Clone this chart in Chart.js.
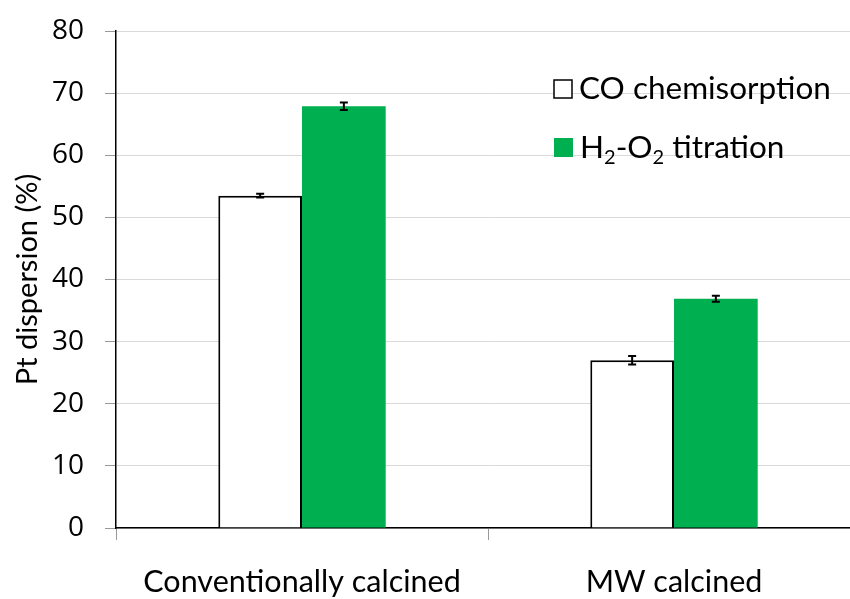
<!DOCTYPE html>
<html>
<head>
<meta charset="utf-8">
<script src="https://cdn.jsdelivr.net/npm/chart.js@4"></script>
<style>
  html,body{margin:0;padding:0;background:#fff;overflow:hidden;}
  .wrap{width:864px;height:599px;}
</style>
</head>
<body>
<div class="wrap"><canvas class="chart" width="864" height="599"></canvas></div>
<script>
const categories=["Conventionally calcined","MW calcined"];
const coValues=[53.5,27.0];
const coErrors=[0.3,0.7];
const h2o2Values=[67.9,36.9];
const h2o2Errors=[0.6,0.5];
const yTicks=[0,10,20,30,40,50,60,70,80];

// error bars drawn through the y scale
const errorBars={
  id:"errorBars",
  afterDatasetsDraw(chart){
    const ctx=chart.ctx;
    const y=chart.scales.y;
    chart.data.datasets.forEach((ds,di)=>{
      const meta=chart.getDatasetMeta(di);
      meta.data.forEach((bar,i)=>{
        const v=ds.data[i],e=ds.errors[i];
        const top=y.getPixelForValue(v+e),bot=y.getPixelForValue(v-e);
        ctx.save();
        ctx.strokeStyle="#000";
        ctx.lineWidth=2;
        ctx.beginPath();
        ctx.moveTo(bar.x,top);ctx.lineTo(bar.x,bot);
        ctx.moveTo(bar.x-4,top);ctx.lineTo(bar.x+4,top);
        ctx.moveTo(bar.x-4,bot);ctx.lineTo(bar.x+4,bot);
        ctx.stroke();
        ctx.restore();
      });
    });
  }
};

// legend inside plot, with subscripts
const insideLegend={
  id:"insideLegend",
  afterDraw(chart){
    const ctx=chart.ctx;
    const font="31.5px Lato";
    const sub="20px Lato";
    ctx.save();
    ctx.textBaseline="middle";
    // row 1
    ctx.fillStyle="#fff";ctx.strokeStyle="#000";ctx.lineWidth=1.5;
    ctx.fillRect(554,80,18,18);ctx.strokeRect(554,80,18,18);
    ctx.fillStyle="#000";ctx.font=font;
    ctx.fillText("CO chemisorption",579,89);
    // row 2
    ctx.fillStyle="#00b050";
    ctx.fillRect(554,138,19,19);
    ctx.fillStyle="#000";
    let x=580;const yy=148;
    const parts=[["H",font,0],["2",sub,10],["-O",font,0],["2",sub,10],[" titration",font,0]];
    parts.forEach(p=>{
      ctx.font=p[1];
      ctx.fillText(p[0],x,yy+p[2]);
      x+=ctx.measureText(p[0]).width;
    });
    ctx.restore();
  }
};

new Chart(document.querySelector(".chart"),{
  type:"bar",
  data:{
    labels:categories,
    datasets:[{
      label:"CO chemisorption",
      data:coValues,
      errors:coErrors,
      backgroundColor:"#fff",
      borderColor:"#000",
      borderWidth:2,
      categoryPercentage:0.45,
      barPercentage:1.0
    },{
      label:"H2-O2 titration",
      data:h2o2Values,
      errors:h2o2Errors,
      backgroundColor:"#00b050",
      borderWidth:0,
      categoryPercentage:0.45,
      barPercentage:1.0
    }]
  },
  plugins:[errorBars,insideLegend],
  options:{
    responsive:false,
    animation:false,
    layout:{padding:{top:31,right:4,left:0,bottom:0}},
    plugins:{legend:{display:false},tooltip:{enabled:false}},
    scales:{
      x:{
        grid:{drawOnChartArea:false,color:"#999",tickLength:12,offset:true},
        border:{color:"#000",width:1.5},
        ticks:{color:"#000",font:{family:"Lato",size:30.5},padding:24,maxRotation:0},
        afterFit:s=>{s.height=71;}
      },
      y:{
        min:0,max:80,
        afterBuildTicks:s=>{s.ticks=yTicks.map(v=>({value:v}));},
        grid:{color:"#d9d9d9",tickColor:"#999",tickLength:11},
        border:{color:"#000",width:1.5},
        ticks:{color:"#000",font:{family:"Open Sans",size:28},padding:21},
        title:{display:true,text:"Pt dispersion (%)",color:"#000",font:{family:"Lato",size:29},padding:{top:10,bottom:0}},
        afterFit:s=>{s.width=116;s.paddingTop=0;s.paddingBottom=0;}
      }
    }
  }
});
</script>
</body>
</html>
